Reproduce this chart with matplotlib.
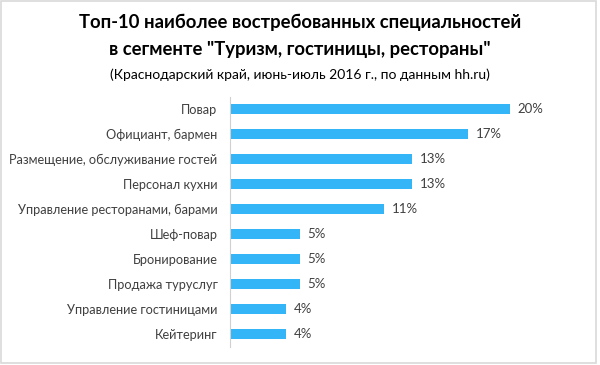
import matplotlib.pyplot as plt
from matplotlib.patches import Rectangle

# Данные
categories = [
    'Повар',
    'Официант, бармен',
    'Размещение, обслуживание гостей',
    'Персонал кухни',
    'Управление ресторанами, барами',
    'Шеф-повар',
    'Бронирование',
    'Продажа туруслуг',
    'Управление гостиницами',
    'Кейтеринг',
]
values = [20, 17, 13, 13, 11, 5, 5, 5, 4, 4]
value_labels = ['20%', '17%', '13%', '13%', '11%', '5%', '5%', '5%', '4%', '4%']

plt.rcParams['font.family'] = ['Lato', 'DejaVu Sans']

fig = plt.figure(figsize=(6, 3.65), dpi=100)
ax = fig.add_axes([230 / 600, 1 - 346.5 / 365, 350 / 600, 250 / 365])

y = list(range(len(categories)))
ax.barh(y, values, height=0.42, color='#33B5F7')

for yi, v, lab in zip(y, values, value_labels):
    ax.text(v + 0.55, yi, lab, va='center', ha='left', fontsize=9.5, color='#404040')

ax.set_xlim(0, 25)
ax.set_ylim(len(categories) - 0.5, -0.5)
ax.set_yticks(y)
ax.set_yticklabels(categories, fontsize=9.2, color='#404040')
ax.tick_params(axis='y', length=0, pad=9)
ax.set_xticks([])
for s in ['top', 'right', 'bottom']:
    ax.spines[s].set_visible(False)
ax.spines['left'].set_color('#d0d0d0')
ax.spines['left'].set_linewidth(0.8)

# Заголовок
fig.text(0.5, 1 - 22 / 365, 'Топ-10 наиболее востребованных специальностей',
         ha='center', va='center', fontsize=13.3, weight='bold', color='black')
fig.text(0.5, 1 - 50 / 365, 'в сегменте "Туризм, гостиницы, рестораны"',
         ha='center', va='center', fontsize=13.3, weight='bold', color='black')
fig.text(0.5, 1 - 75 / 365, '(Краснодарский край, июнь-июль 2016 г., по данным hh.ru)',
         ha='center', va='center', fontsize=10, color='black')

# Рамка
fig.patches.append(Rectangle((0.001, 0.006), 0.993, 0.99, transform=fig.transFigure,
                             fill=False, edgecolor='#d9d9d9', linewidth=1.2))

fig.savefig('out.png', dpi=100, facecolor='white')
